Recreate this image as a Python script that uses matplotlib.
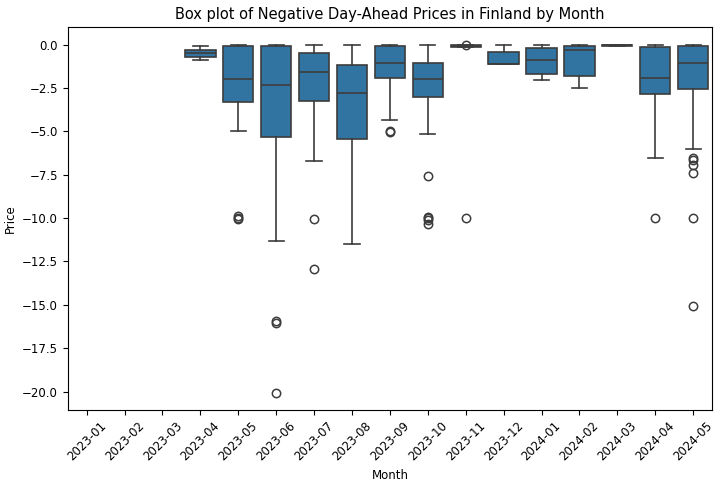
import numpy as np
import matplotlib
matplotlib.use("Agg")
import matplotlib.pyplot as plt

months = ["2023-01", "2023-02", "2023-03", "2023-04", "2023-05", "2023-06",
          "2023-07", "2023-08", "2023-09", "2023-10", "2023-11", "2023-12",
          "2024-01", "2024-02", "2024-03", "2024-04", "2024-05"]

# box stats (None = no negative prices that month)
q1 = [None, None, None, -0.73, -3.3, -5.3, -3.24, -5.42, -1.95, -3.0, -0.14, -1.13,
      -1.72, -1.84, -0.07, -2.85, -2.59]
med = [None, None, None, -0.5, -2.0, -2.32, -1.57, -2.8, -1.05, -2.01, -0.09, -1.12,
       -0.88, -0.34, -0.05, -1.92, -1.05]
q3 = [None, None, None, -0.29, -0.11, -0.1, -0.48, -1.19, -0.1, -1.05, -0.05, -0.42,
      -0.19, -0.06, -0.03, -0.15, -0.11]
whis_lo = [None, None, None, -0.92, -4.98, -11.3, -6.7, -11.5, -4.37, -5.15, -0.17, -1.13,
           -2.03, -2.49, -0.08, -6.53, -6.02]
whis_hi = [None, None, None, -0.1, 0.0, 0.0, 0.0, 0.0, 0.0, 0.0, -0.02, 0.0,
           0.0, 0.0, -0.02, 0.0, 0.0]
fliers = [[], [], [], [], [-9.9, -10.0, -10.05], [-15.95, -16.05, -20.05],
          [-10.06, -12.95], [], [-5.0, -5.05], [-7.57, -9.92, -10.02, -10.1, -10.34],
          [0.0, -10.0], [], [], [], [], [-10.0],
          [-6.51, -6.63, -6.94, -7.4, -10.0, -15.05]]

fill = "#3274a1"
edge = "#3c3c3c"

fig = plt.figure(figsize=(7.2, 4.84), dpi=100)
ax = fig.add_axes([0.094, 0.153, 0.895, 0.791])

stats = []
pos = []
for i in range(len(months)):
    if q1[i] is None:
        continue
    stats.append(dict(med=med[i], q1=q1[i], q3=q3[i], whislo=whis_lo[i],
                      whishi=whis_hi[i], fliers=fliers[i]))
    pos.append(i)

ax.bxp(stats, positions=pos, widths=0.8, patch_artist=True,
       boxprops=dict(facecolor=fill, edgecolor=edge, linewidth=1.2),
       medianprops=dict(color=edge, linewidth=1.2),
       whiskerprops=dict(color=edge, linewidth=1.2),
       capprops=dict(color=edge, linewidth=1.2),
       capwidths=0.4,
       flierprops=dict(marker="o", markerfacecolor="none", markeredgecolor=edge,
                       markersize=6, markeredgewidth=1.1))

ax.set_xlim(-0.5, len(months) - 0.5)
ax.set_xticks(range(len(months)))
ax.set_xticklabels(months, rotation=45, fontsize=8.5)
ax.tick_params(axis="y", labelsize=8.5)
ax.set_yticks(np.arange(-20, 0.1, 2.5))
ax.set_xlabel("Month", fontsize=8.5)
ax.set_ylabel("Price", fontsize=8.5)
ax.set_title("Box plot of Negative Day-Ahead Prices in Finland by Month", fontsize=10.5)

fig.savefig("out.png", dpi=100)
